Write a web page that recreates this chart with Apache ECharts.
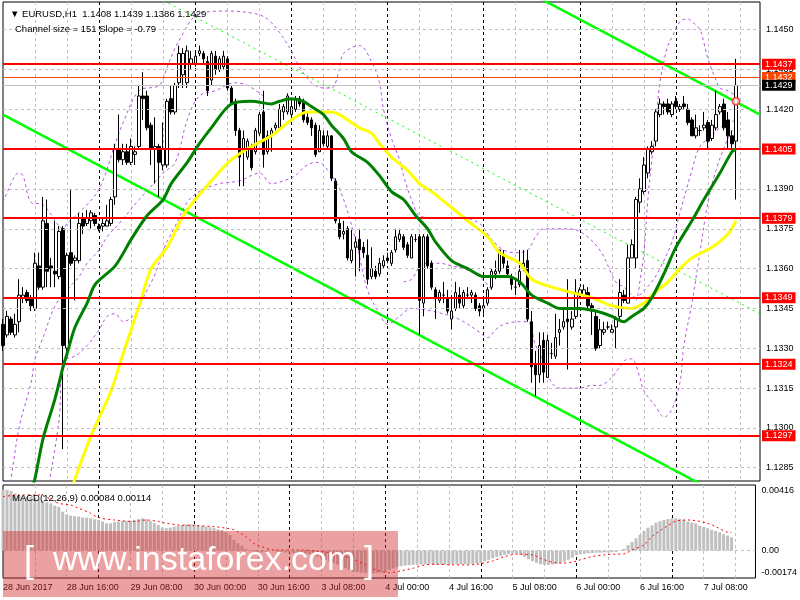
<!DOCTYPE html>
<html><head><meta charset="utf-8"><title>EURUSD H1</title>
<script src="https://cdn.jsdelivr.net/npm/echarts@6.0.0/dist/echarts.min.js"></script>
<style>html,body{margin:0;padding:0;background:#fff;}#chart{width:800px;height:600px;}</style>
</head><body><div id="chart"></div>
<script>
// ---------- DATA ----------
const symbolName = "EURUSD,H1";
const channelText = "Channel size = 151 Slope = -0.79";
const macdName = "MACD(12,26,9)";
const slotCount = 190;               // hourly slots on the time axis (last 6 are empty)
const timeLabels = ["28 Jun 2017","28 Jun 16:00","29 Jun 08:00","30 Jun 00:00","30 Jun 16:00","3 Jul 08:00","4 Jul 00:00","4 Jul 16:00","5 Jul 08:00","6 Jul 00:00","6 Jul 16:00","7 Jul 08:00"];
const labelEvery = 16;
const priceTicks = [1.1285,1.1300,1.1315,1.1330,1.1345,1.1360,1.1375,1.1390,1.1405,1.1420,1.1435,1.1450];
const macdTicks = [-0.00174, 0, 0.00416];

// [open, close, low, high]
const candles = [
[1.1339,1.1331,1.1329,1.1341],[1.1335,1.1342,1.1334,1.1344],[1.1341,1.1336,1.1335,1.1342],[1.1335,1.1339,1.1334,1.1343],
[1.1340,1.1350,1.1336,1.1356],[1.1349,1.1350,1.1347,1.1353],[1.1351,1.1348,1.1347,1.1352],[1.1349,1.1346,1.1344,1.1350],
[1.1345,1.1362,1.1344,1.1366],[1.1361,1.1353,1.1352,1.1366],[1.1353,1.1378,1.1352,1.1387],[1.1377,1.1359,1.1353,1.1386],
[1.1361,1.1360,1.1353,1.1364],[1.1359,1.1358,1.1353,1.1378],[1.1357,1.1374,1.1356,1.1376],[1.1375,1.1331,1.1292,1.1376],
[1.1330,1.1365,1.1327,1.1366],[1.1366,1.1362,1.1361,1.1390],[1.1363,1.1364,1.1348,1.1365],[1.1363,1.1377,1.1362,1.1381],
[1.1379,1.1376,1.1373,1.1381],[1.1377,1.1379,1.1376,1.1382],[1.1378,1.1381,1.1375,1.1382],[1.1380,1.1377,1.1376,1.1381],
[1.1376,1.1375,1.1374,1.1377],[1.1376,1.1377,1.1374,1.1379],[1.1376,1.1378,1.1376,1.1384],[1.1377,1.1386,1.1376,1.1387],
[1.1387,1.1405,1.1384,1.1407],[1.1405,1.1401,1.1400,1.1418],[1.1401,1.1404,1.1399,1.1407],[1.1404,1.1400,1.1399,1.1407],
[1.1400,1.1406,1.1399,1.1409],[1.1403,1.1404,1.1399,1.1406],[1.1406,1.1425,1.1405,1.1429],[1.1425,1.1424,1.1416,1.1434],
[1.1425,1.1413,1.1412,1.1427],[1.1414,1.1405,1.1399,1.1415],[1.1405,1.1406,1.1392,1.1417],[1.1406,1.1400,1.1387,1.1407],
[1.1399,1.1405,1.1397,1.1415],[1.1399,1.1423,1.1398,1.1424],[1.1424,1.1419,1.1418,1.1429],[1.1419,1.1429,1.1418,1.1430],
[1.1430,1.1441,1.1428,1.1444],[1.1433,1.1441,1.1428,1.1443],[1.1430,1.1442,1.1428,1.1444],[1.1437,1.1439,1.1435,1.1442],
[1.1437,1.1440,1.1436,1.1442],[1.1441,1.1442,1.1440,1.1444],[1.1441,1.1439,1.1437,1.1442],[1.1438,1.1427,1.1425,1.1440],
[1.1431,1.1441,1.1429,1.1442],[1.1440,1.1435,1.1433,1.1442],[1.1435,1.1439,1.1434,1.1440],[1.1436,1.1440,1.1435,1.1442],
[1.1439,1.1428,1.1427,1.1440],[1.1428,1.1422,1.1422,1.1429],[1.1423,1.1412,1.1410,1.1424],[1.1412,1.1402,1.1391,1.1413],
[1.1404,1.1409,1.1391,1.1412],[1.1402,1.1408,1.1401,1.1409],[1.1405,1.1398,1.1397,1.1407],[1.1404,1.1412,1.1403,1.1413],
[1.1411,1.1418,1.1410,1.1419],[1.1419,1.1403,1.1398,1.1427],[1.1404,1.1410,1.1403,1.1412],[1.1410,1.1412,1.1404,1.1413],
[1.1413,1.1414,1.1412,1.1415],[1.1413,1.1420,1.1412,1.1422],[1.1419,1.1421,1.1416,1.1422],[1.1419,1.1425,1.1418,1.1426],
[1.1418,1.1421,1.1416,1.1424],[1.1420,1.1424,1.1419,1.1425],[1.1424,1.1422,1.1421,1.1425],[1.1423,1.1416,1.1415,1.1424],
[1.1417,1.1415,1.1414,1.1419],[1.1416,1.1413,1.1410,1.1417],[1.1414,1.1403,1.1402,1.1415],[1.1404,1.1412,1.1404,1.1414],
[1.1410,1.1407,1.1406,1.1412],[1.1406,1.1410,1.1405,1.1412],[1.1410,1.1394,1.1393,1.1410],[1.1393,1.1378,1.1377,1.1394],
[1.1377,1.1372,1.1371,1.1379],[1.1373,1.1374,1.1371,1.1378],[1.1375,1.1364,1.1363,1.1376],[1.1363,1.1367,1.1362,1.1375],
[1.1368,1.1370,1.1357,1.1372],[1.1371,1.1367,1.1359,1.1375],[1.1368,1.1366,1.1364,1.1370],[1.1365,1.1356,1.1354,1.1371],
[1.1357,1.1360,1.1356,1.1368],[1.1359,1.1357,1.1356,1.1361],[1.1358,1.1362,1.1357,1.1364],[1.1361,1.1363,1.1360,1.1365],
[1.1364,1.1363,1.1362,1.1366],[1.1362,1.1366,1.1361,1.1367],[1.1367,1.1372,1.1366,1.1375],[1.1371,1.1373,1.1370,1.1375],
[1.1372,1.1368,1.1367,1.1373],[1.1369,1.1365,1.1364,1.1370],[1.1364,1.1372,1.1364,1.1373],[1.1371,1.1371,1.1370,1.1373],
[1.1372,1.1348,1.1335,1.1373],[1.1347,1.1372,1.1342,1.1373],[1.1372,1.1361,1.1360,1.1373],[1.1362,1.1353,1.1352,1.1363],
[1.1352,1.1349,1.1341,1.1353],[1.1348,1.1351,1.1347,1.1352],[1.1350,1.1350,1.1347,1.1355],[1.1349,1.1344,1.1343,1.1352],
[1.1341,1.1344,1.1337,1.1350],[1.1345,1.1351,1.1344,1.1355],[1.1350,1.1347,1.1345,1.1353],[1.1346,1.1351,1.1345,1.1352],
[1.1350,1.1350,1.1349,1.1353],[1.1350,1.1351,1.1347,1.1352],[1.1350,1.1345,1.1344,1.1351],[1.1346,1.1344,1.1342,1.1347],
[1.1345,1.1346,1.1343,1.1349],[1.1347,1.1352,1.1346,1.1353],[1.1353,1.1359,1.1352,1.1360],[1.1358,1.1359,1.1356,1.1363],
[1.1359,1.1367,1.1358,1.1367],[1.1365,1.1362,1.1360,1.1367],[1.1361,1.1358,1.1357,1.1363],[1.1357,1.1354,1.1352,1.1358],
[1.1353,1.1353,1.1350,1.1356],[1.1354,1.1359,1.1353,1.1367],[1.1360,1.1362,1.1359,1.1367],[1.1363,1.1341,1.1340,1.1367],
[1.1340,1.1323,1.1317,1.1344],[1.1324,1.1320,1.1312,1.1329],[1.1320,1.1331,1.1317,1.1336],[1.1333,1.1321,1.1317,1.1336],
[1.1319,1.1333,1.1319,1.1335],[1.1328,1.1328,1.1326,1.1332],[1.1327,1.1334,1.1326,1.1343],[1.1336,1.1337,1.1331,1.1341],
[1.1338,1.1340,1.1337,1.1345],[1.1341,1.1340,1.1322,1.1356],[1.1338,1.1341,1.1337,1.1344],[1.1342,1.1351,1.1341,1.1356],
[1.1350,1.1352,1.1349,1.1353],[1.1350,1.1352,1.1349,1.1354],[1.1351,1.1346,1.1344,1.1353],[1.1346,1.1344,1.1335,1.1347],
[1.1342,1.1330,1.1329,1.1344],[1.1331,1.1337,1.1330,1.1341],[1.1336,1.1337,1.1335,1.1340],[1.1338,1.1338,1.1337,1.1340],
[1.1336,1.1337,1.1336,1.1339],[1.1338,1.1341,1.1330,1.1342],[1.1342,1.1351,1.1341,1.1356],[1.1350,1.1348,1.1347,1.1352],
[1.1347,1.1364,1.1347,1.1369],[1.1364,1.1369,1.1364,1.1371],[1.1364,1.1386,1.1360,1.1387],[1.1385,1.1390,1.1381,1.1394],
[1.1389,1.1399,1.1388,1.1402],[1.1396,1.1405,1.1394,1.1406],[1.1404,1.1406,1.1403,1.1408],[1.1408,1.1419,1.1406,1.1420],
[1.1418,1.1422,1.1417,1.1424],[1.1422,1.1421,1.1418,1.1423],[1.1422,1.1419,1.1418,1.1424],[1.1418,1.1422,1.1417,1.1423],
[1.1423,1.1421,1.1420,1.1425],[1.1420,1.1421,1.1419,1.1422],[1.1422,1.1421,1.1420,1.1425],[1.1420,1.1415,1.1414,1.1422],
[1.1416,1.1410,1.1410,1.1417],[1.1410,1.1413,1.1409,1.1418],[1.1412,1.1412,1.1410,1.1414],[1.1413,1.1414,1.1412,1.1419],
[1.1415,1.1408,1.1405,1.1416],[1.1409,1.1414,1.1408,1.1416],[1.1413,1.1418,1.1412,1.1427],[1.1419,1.1421,1.1418,1.1422],
[1.1422,1.1413,1.1412,1.1424],[1.1416,1.1410,1.1405,1.1419],[1.1410,1.1407,1.1405,1.1412],[1.1408,1.1429,1.1386,1.1439]
];

// moving averages: [slot, price]
const maGreen = [[7,1.1276],[8,1.1281],[10,1.1296],[13,1.1311],[15,1.1323],[16,1.1328],[18,1.1338],[21,1.1347],[23,1.1354],[28,1.1361],[32,1.1371],[36,1.1380],[40,1.1386],[42,1.1392],[46,1.1400],[49,1.1407],[52,1.1413],[57,1.1422],[62,1.1423],[67,1.1422],[69,1.1423],[72,1.1424],[75,1.1423],[77,1.1421],[80,1.1418],[82,1.1414],[85,1.1409],[87,1.1404],[91,1.1400],[94,1.1395],[97,1.1389],[100,1.1386],[103,1.1380],[106,1.1375],[108,1.1370],[112,1.1363],[116,1.1360],[120,1.1357],[126,1.1357],[129,1.1355],[132,1.1350],[136,1.1347],[139,1.1345],[144,1.1345],[148,1.1344],[152,1.1342],[155,1.1340],[157,1.1342],[160,1.1345],[162,1.1349],[165,1.1358],[168,1.1368],[172,1.1378],[175,1.1386],[179,1.1396],[182,1.1404],[183,1.1405]];
const maYellow = [[17,1.1276],[18,1.1281],[22,1.1297],[27,1.1314],[30,1.1328],[34,1.1346],[37,1.1360],[41,1.1368],[45,1.1380],[48,1.1386],[52,1.1393],[57,1.1401],[62,1.1406],[67,1.1410],[72,1.1416],[76,1.1419],[78,1.1419],[82,1.1419],[84,1.1418],[87,1.1415],[89,1.1413],[92,1.1411],[94,1.1407],[97,1.1402],[101,1.1397],[104,1.1392],[107,1.1389],[112,1.1383],[116,1.1378],[121,1.1372],[124,1.1366],[129,1.1362],[132,1.1356],[137,1.1353],[142,1.1351],[147,1.1349],[152,1.1346],[157,1.1345],[160,1.1347],[162,1.1350],[166,1.1355],[169,1.1360],[172,1.1364],[177,1.1368],[181,1.1373],[183,1.1378]];

// envelope bands (purple dotted)
const bandUpper = [[0,1.1385],[3,1.1395],[4,1.1396],[5,1.1395],[7,1.1385],[10,1.1384],[14,1.1376],[15,1.1375],[16,1.1377],[19,1.1381],[24,1.1390],[28,1.1407],[30,1.1415],[34,1.1427],[39,1.1429],[41,1.1436],[44,1.1446],[49,1.1456],[56,1.1457],[63,1.1456],[66,1.1454],[69,1.1449],[72,1.1442],[74,1.1436],[77,1.1430],[80,1.1428],[82,1.1428],[84,1.1435],[85,1.1441],[89,1.1444],[92,1.1438],[94,1.1430],[95,1.1420],[97,1.1409],[99,1.1401],[100,1.1395],[102,1.1386],[104,1.1380],[108,1.1379],[112,1.1379],[115,1.1379],[119,1.1377],[122,1.1371],[125,1.1367],[128,1.1366],[131,1.1367],[133,1.1372],[135,1.1375],[140,1.1375],[144,1.1374],[149,1.1367],[153,1.1355],[155,1.1353],[158,1.1349],[159,1.1355],[160,1.1366],[161,1.1386],[162,1.1401],[163,1.1415],[164,1.1430],[165,1.1438],[166,1.1444],[167,1.1447],[169,1.1453],[171,1.1454],[172,1.1453],[174,1.1450],[175,1.1445],[176,1.1439],[178,1.1431],[179,1.1428],[181,1.1427],[183,1.1425]];
const bandLower = [[11,1.1275],[14,1.1303],[15,1.1325],[18,1.1327],[21,1.1331],[24,1.1337],[26,1.1342],[28,1.1343],[30,1.1340],[33,1.1343],[35,1.1349],[38,1.1358],[40,1.1367],[43,1.1376],[46,1.1385],[49,1.1389],[54,1.1392],[59,1.1393],[64,1.1396],[67,1.1392],[70,1.1393],[73,1.1395],[75,1.1398],[78,1.1400],[80,1.1399],[84,1.1390],[88,1.1371],[91,1.1352],[94,1.1343],[96,1.1339],[99,1.1342],[102,1.1345],[107,1.1344],[112,1.1342],[115,1.1340],[119,1.1336],[121,1.1334],[123,1.1337],[125,1.1339],[129,1.1340],[131,1.1340],[133,1.1331],[135,1.1325],[137,1.1317],[139,1.1315],[144,1.1315],[147,1.1316],[149,1.1316],[152,1.1319],[154,1.1323],[156,1.1326],[157,1.1326],[159,1.1319],[160,1.1314],[163,1.1308],[165,1.1304],[167,1.1307],[169,1.1317],[170,1.1331],[172,1.1347],[174,1.1366],[176,1.1385],[178,1.1397],[181,1.1409],[183,1.1414]];
const bandInnerLeft = [[1,1.1275],[2,1.1281],[4,1.1300],[7,1.1317],[8,1.1326],[10,1.1334],[13,1.1346],[16,1.1352],[19,1.1357],[21,1.1362],[24,1.1367],[26,1.1372],[29,1.1377],[34,1.1386],[37,1.1391],[40,1.1396],[43,1.1400],[46,1.1416],[49,1.1425],[53,1.1427],[58,1.1430],[61,1.1429],[65,1.1425]];
const bandInnerMid = [[100,1.1355],[102,1.1356],[105,1.1362],[109,1.1362],[112,1.1361],[115,1.1360],[119,1.1357],[122,1.1352]];
const bandInnerRight = [[158,1.1348],[159,1.1350],[162,1.1355],[164,1.1360],[167,1.1370],[169,1.1381],[172,1.1397],[174,1.1406],[177,1.1410],[179,1.1413],[183,1.1416]];

// regression channel end points [slot, price]
const channelUpper = [[130,1.1465],[189,1.1418]];
const channelLower = [[0,1.1418],[189,1.1267]];
const channelMid = [[40,1.1461],[189,1.1343]];

// horizontal levels
const redLevels = [1.1437,1.1405,1.1379,1.1349,1.1324,1.1297];
const orangeLevel = 1.1432;
const lastPrice = 1.1429;
const markerPoint = [[183,1.1423]];

// MACD histogram per bar and signal line [slot, value]
const macdHist = [
0.00385,0.00385,0.00378,0.00363,0.00353,0.00349,0.00342,0.00340,0.00336,0.00325,
0.00315,0.00306,0.00300,0.00285,0.00277,0.00247,0.00230,0.00222,0.00218,0.00216,
0.00211,0.00209,0.00205,0.00199,0.00194,0.00184,0.00173,0.00173,0.00180,0.00184,
0.00188,0.00188,0.00190,0.00194,0.00199,0.00205,0.00199,0.00188,0.00173,0.00163,
0.00146,0.00142,0.00146,0.00152,0.00158,0.00163,0.00167,0.00167,0.00167,0.00163,
0.00156,0.00152,0.00148,0.00142,0.00135,0.00131,0.00116,0.00099,0.00068,0.00046,
0.00030,0.00011,-0.00002,-0.00006,-0.00011,-0.00011,-0.00006,-0.00002,-0.00004,-0.00006,
-0.00008,-0.00011,-0.00013,-0.00015,-0.00017,-0.00017,-0.00019,-0.00023,-0.00032,-0.00038,
-0.00049,-0.00059,-0.00070,-0.00080,-0.00089,-0.00101,-0.00112,-0.00123,-0.00133,-0.00137,
-0.00139,-0.00142,-0.00144,-0.00144,-0.00142,-0.00139,-0.00133,-0.00123,-0.00114,-0.00105,
-0.00099,-0.00095,-0.00093,-0.00091,-0.00089,-0.00089,-0.00088,-0.00088,-0.00089,-0.00089,
-0.00089,-0.00089,-0.00088,-0.00087,-0.00087,-0.00087,-0.00086,-0.00085,-0.00084,-0.00083,
-0.00080,-0.00068,-0.00059,-0.00049,-0.00040,-0.00033,-0.00027,-0.00023,-0.00018,-0.00020,
-0.00027,-0.00040,-0.00055,-0.00068,-0.00078,-0.00087,-0.00090,-0.00091,-0.00089,-0.00085,
-0.00080,-0.00070,-0.00058,-0.00045,-0.00030,-0.00024,-0.00021,-0.00018,-0.00016,-0.00014,
-0.00013,-0.00012,-0.00011,-0.00010,-0.00008,-0.00002,0.00011,0.00035,0.00055,0.00078,
0.00100,0.00125,0.00145,0.00160,0.00177,0.00186,0.00194,0.00200,0.00205,0.00205,
0.00201,0.00195,0.00184,0.00178,0.00173,0.00158,0.00150,0.00142,0.00132,0.00125,
0.00116,0.00104,0.00095,0.00084
];
const macdSignal = [[0,0.00342],[4,0.00353],[9,0.00353],[14,0.00300],[17,0.00289],[19,0.00268],[22,0.00237],[24,0.00209],[28,0.00194],[33,0.00184],[36,0.00194],[39,0.00184],[41,0.00173],[44,0.00163],[48,0.00158],[53,0.00152],[56,0.00142],[58,0.00131],[61,0.00089],[63,0.00046],[65,0.00025],[68,0.00004],[74,0.00004],[80,-0.00006],[84,-0.00023],[88,-0.00055],[91,-0.00090],[94,-0.00125],[97,-0.00140],[100,-0.00128],[103,-0.00112],[106,-0.00091],[109,-0.00087],[113,-0.00091],[116,-0.00091],[119,-0.00087],[123,-0.00066],[126,-0.00038],[129,-0.00023],[133,-0.00027],[135,-0.00049],[138,-0.00074],[140,-0.00080],[143,-0.00074],[144,-0.00066],[148,-0.00038],[151,-0.00027],[154,-0.00023],[156,-0.00021],[158,0.00004],[161,0.00036],[163,0.00089],[166,0.00142],[168,0.00173],[169,0.00188],[172,0.00194],[174,0.00190],[177,0.00173],[179,0.00152],[182,0.00116],[183,0.00114]];

// ---------- CHART ----------
const FONT = "'Liberation Sans', Arial, sans-serif";
const slots = Array.from({length: slotCount}, (_, i) => String(i));
const near = (a, b) => Math.abs(a - b) < 1e-7;
const f4 = v => Number(v).toFixed(4);
const last = candles[candles.length - 1];
const GRAY = '#c0c0c0';

function xAxisFor(grid, extra) {
  return Object.assign({
    type: 'category', gridIndex: grid, data: slots, boundaryGap: false,
    axisLine: {show: false}, axisTick: {show: false}, axisLabel: {show: false}, splitLine: {show: false}
  }, extra);
}
const graySplit = {show: true, interval: (i) => i % 8 === 0 && i % 24 !== 0, lineStyle: {color: GRAY, type: [3, 3], width: 1}};
const blackSplit = {show: true, interval: (i) => i > 0 && i % 24 === 0, lineStyle: {color: '#000', type: [3, 3], width: 1}};

const tag = (txt, bg, fg) => ({
  show: true, position: 'end', distance: 2, formatter: txt,
  backgroundColor: bg, color: fg, padding: [1, 3, 0, 3], fontSize: 9, lineHeight: 10, fontFamily: FONT
});

const levelLines = redLevels.map(v => ({yAxis: v, lineStyle: {color: '#ff0000', width: 2, type: 'solid'}, label: tag(f4(v), '#ff0000', '#ffffff')}));
levelLines.push({yAxis: orangeLevel, lineStyle: {color: '#ff4500', width: 1, type: 'solid'}, label: tag(f4(orangeLevel), '#ff4500', '#ffffff')});
levelLines.push({yAxis: lastPrice, lineStyle: {color: GRAY, width: 1, type: 'solid'}, label: tag(f4(lastPrice), '#000000', '#ffffff')});

const purple = (name, data) => ({
  name, type: 'line', xAxisIndex: 0, yAxisIndex: 0, data, symbol: 'none', smooth: 0.35, z: 2, silent: true,
  lineStyle: {color: '#b455dc', width: 1, type: [3, 3]}
});

const option = {
  animation: false,
  backgroundColor: '#ffffff',
  textStyle: {fontFamily: FONT},
  title: [
    {text: '\u25BC ' + symbolName + '  ' + f4(last[0]) + ' ' + f4(last[3]) + ' ' + f4(last[2]) + ' ' + f4(last[1]), left: 5, top: 4,
     textStyle: {fontSize: 9.5, fontWeight: 'normal', color: '#000', fontFamily: FONT}},
    {text: channelText, left: 10, top: 19, textStyle: {fontSize: 9.5, fontWeight: 'normal', color: '#000', fontFamily: FONT}},
    {text: macdName + ' ' + macdHist[macdHist.length - 1].toFixed(5) + ' ' + macdSignal[macdSignal.length - 1][1].toFixed(5), left: 7, top: 488,
     textStyle: {fontSize: 9.5, fontWeight: 'normal', color: '#000', fontFamily: FONT}}
  ],
  grid: [
    {left: 3, top: 2, width: 757, height: 479, show: true, borderColor: '#000', borderWidth: 1, backgroundColor: 'transparent'},
    {left: 3, top: 485, width: 757, height: 93, show: true, borderColor: '#000', borderWidth: 1, backgroundColor: 'transparent'}
  ],
  xAxis: [
    xAxisFor(0, {splitLine: graySplit}),
    xAxisFor(1, {splitLine: graySplit, axisLabel: {
      show: true, interval: (i) => i % labelEvery === 0 && i / labelEvery < timeLabels.length,
      formatter: (v, i) => timeLabels[Math.round(Number(v) / labelEvery)] || '',
      align: 'left', margin: 5, fontSize: 9, color: '#000', fontFamily: FONT}}),
    xAxisFor(0, {splitLine: blackSplit}),
    xAxisFor(1, {splitLine: blackSplit})
  ],
  yAxis: [
    {type: 'value', gridIndex: 0, position: 'right', min: 1.1280, max: 1.14604, interval: 0.0005, scale: true,
     axisLine: {show: false}, axisTick: {show: false}, splitLine: {show: false},
     axisLabel: {margin: 6, fontSize: 9, color: '#000', fontFamily: FONT,
       formatter: v => priceTicks.some(t => near(t, v)) ? f4(v) : ''}},
    {type: 'value', gridIndex: 1, position: 'right', min: macdTicks[0], max: macdTicks[2], interval: -macdTicks[0],
     axisLine: {show: false}, axisTick: {show: false}, splitLine: {show: false},
     axisLabel: {margin: 6, fontSize: 9, color: '#000', fontFamily: FONT,
       formatter: v => near(v, macdTicks[2]) ? '{t|' + v.toFixed(5) + '}' : near(v, 0) ? '0.00' : near(v, macdTicks[0]) ? '{b|' + v.toFixed(5) + '}' : '',
       rich: {
         t: {padding: [12, 0, 0, 0], fontSize: 9, color: '#000', fontFamily: FONT},
         b: {padding: [0, 0, 10, 0], fontSize: 9, color: '#000', fontFamily: FONT}
       }}}
  ],
  series: [
    {name: 'chLower', type: 'line', xAxisIndex: 0, yAxisIndex: 0, data: channelLower, symbol: 'none', z: 2, silent: true,
     lineStyle: {color: '#00ff00', width: 2.5},
     markLine: {symbol: ['none', 'none'], silent: true, animation: false, precision: 6, label: {show: false},
       lineStyle: {color: GRAY, type: [3, 3], width: 1}, data: priceTicks.map(v => ({yAxis: v}))}},
    {name: 'chUpper', type: 'line', xAxisIndex: 0, yAxisIndex: 0, data: channelUpper, symbol: 'none', z: 2, silent: true,
     lineStyle: {color: '#00ff00', width: 2.5}},
    {name: 'chMid', type: 'line', xAxisIndex: 0, yAxisIndex: 0, data: channelMid, symbol: 'none', z: 2, silent: true,
     lineStyle: {color: '#00ff00', width: 1, type: [2, 4]}},
    purple('bandUpper', bandUpper),
    purple('bandLower', bandLower),
    purple('bandInnerLeft', bandInnerLeft),
    purple('bandInnerMid', bandInnerMid),
    purple('bandInnerRight', bandInnerRight),
    {name: 'price', type: 'candlestick', xAxisIndex: 0, yAxisIndex: 0, data: candles, barWidth: 3, z: 3,
     itemStyle: {color: '#ffffff', color0: '#000000', borderColor: '#000000', borderColor0: '#000000', borderWidth: 1}},
    {name: 'maYellow', type: 'line', xAxisIndex: 0, yAxisIndex: 0, data: maYellow, symbol: 'none', smooth: 0.3, z: 4, silent: true,
     lineStyle: {color: '#ffff00', width: 3}},
    {name: 'maGreen', type: 'line', xAxisIndex: 0, yAxisIndex: 0, data: maGreen, symbol: 'none', smooth: 0.3, z: 5, silent: true,
     lineStyle: {color: '#008000', width: 3},
     markLine: {symbol: ['none', 'none'], silent: true, animation: false, precision: 6, data: levelLines}},
    {name: 'marker', type: 'scatter', xAxisIndex: 0, yAxisIndex: 0, data: markerPoint, symbol: 'emptyCircle', symbolSize: 7, z: 6,
     itemStyle: {color: '#ff3030', borderColor: '#ff3030', borderWidth: 1}},
    {name: 'macd', type: 'bar', xAxisIndex: 1, yAxisIndex: 1, data: macdHist, barWidth: 3, z: 2, silent: true,
     itemStyle: {color: GRAY},
     markLine: {symbol: ['none', 'none'], silent: true, animation: false, precision: 6, label: {show: false},
       lineStyle: {color: GRAY, type: [3, 3], width: 1}, data: [{yAxis: 0}]}},
    {name: 'signal', type: 'line', xAxisIndex: 1, yAxisIndex: 1, data: macdSignal, symbol: 'none', smooth: 0.3, z: 3, silent: true,
     lineStyle: {color: '#ff0000', width: 1, type: [2, 3]}}
  ],
  graphic: [
    {type: 'rect', left: 3, top: 531, z: 100, silent: true, shape: {width: 395, height: 66}, style: {fill: 'rgba(210,40,40,0.44)'}},
    {type: 'text', left: 24, top: 544, z: 101, silent: true, style: {text: '[', fill: '#ffffff', font: '36px ' + FONT}},
    {type: 'text', left: 53, top: 544, z: 101, silent: true, style: {text: 'www.instaforex.com', fill: '#ffffff', font: '34px ' + FONT}},
    {type: 'text', left: 364, top: 544, z: 101, silent: true, style: {text: ']', fill: '#ffffff', font: '36px ' + FONT}}
  ]
};

const chart = echarts.init(document.getElementById('chart'), null, {renderer: 'canvas', width: 800, height: 600});
chart.setOption(option);
</script>
</body></html>
